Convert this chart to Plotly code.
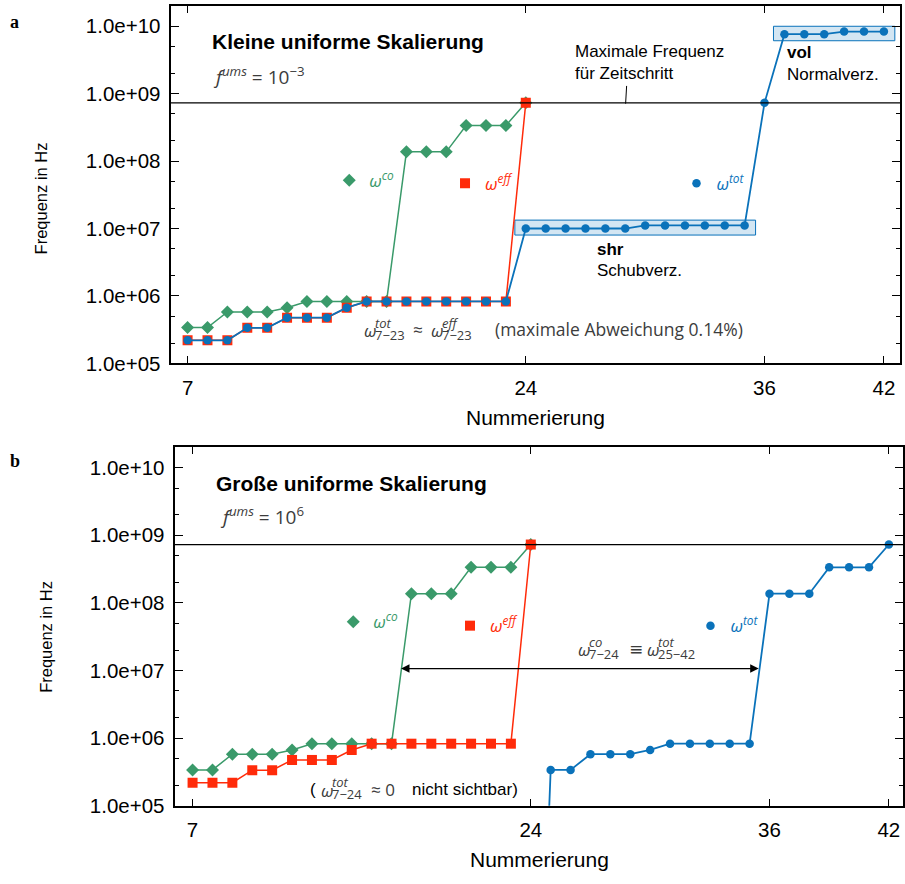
import math
import plotly.graph_objects as go

W, H = 905, 884
SANS = "Liberation Sans, Arial, sans-serif"
MATH = "Open Sans, DejaVu Sans, sans-serif"
GREEN = "#3a9a6a"
RED = "#ff2b0a"
BLUE = "#0a72ba"
GRAY = "#3c3c3c"

# ---------------- data ----------------
x_low = [7, 8, 9, 10, 11, 12, 13, 14, 15, 16, 17, 18, 19, 20, 21, 22, 23, 24]
x_all = [7, 8, 9, 10, 11, 12, 13, 14, 15, 16, 17, 18, 19, 20, 21, 22, 23, 24,
         25, 26, 27, 28, 29, 30, 31, 32, 33, 34, 35, 36, 37, 38, 39, 40, 41, 42]

omega_co = [3.4e5, 3.4e5, 5.8e5, 5.8e5, 5.8e5, 6.7e5, 8.3e5, 8.3e5, 8.3e5,
            8.3e5, 8.3e5, 1.37e8, 1.37e8, 1.37e8, 3.36e8, 3.36e8, 3.36e8, 7.3e8]
omega_eff = [2.2e5, 2.2e5, 2.2e5, 3.37e5, 3.37e5, 4.77e5, 4.77e5, 4.77e5, 6.7e5,
             8.3e5, 8.3e5, 8.3e5, 8.3e5, 8.3e5, 8.3e5, 8.3e5, 8.3e5, 7.3e8]
# panel a (small uniform scaling)
omega_tot_a = [2.2e5, 2.2e5, 2.2e5, 3.37e5, 3.37e5, 4.77e5, 4.77e5, 4.77e5, 6.7e5,
               8.3e5, 8.3e5, 8.3e5, 8.3e5, 8.3e5, 8.3e5, 8.3e5, 8.3e5,
               1.0e7, 1.0e7, 1.0e7, 1.0e7, 1.0e7, 1.0e7,
               1.11e7, 1.11e7, 1.11e7, 1.11e7, 1.11e7, 1.11e7,
               7.3e8, 7.6e9, 7.6e9, 7.6e9, 8.3e9, 8.3e9, 8.3e9]
# panel b (large uniform scaling)
omega_tot_b = [1e-2, 1e-2, 1e-2, 1e-2, 1e-2, 1e-2, 1e-2, 1e-2, 1e-2,
               1e-2, 1e-2, 1e-2, 1e-2, 1e-2, 1e-2, 1e-2, 1e-2, 1e-2,
               3.4e5, 3.4e5, 5.8e5, 5.8e5, 5.8e5, 6.7e5, 8.3e5, 8.3e5, 8.3e5,
               8.3e5, 8.3e5, 1.37e8, 1.37e8, 1.37e8, 3.36e8, 3.36e8, 3.36e8, 7.3e8]
f_max = 7.3e8
x_ticks = [7, 24, 36, 42]
y_ticks = [1e5, 1e6, 1e7, 1e8, 1e9, 1e10]
y_ticktext = ["1.0e+05", "1.0e+06", "1.0e+07", "1.0e+08", "1.0e+09", "1.0e+10"]
y_minor = [m * 10 ** e for e in range(5, 11) for m in (2, 5)]
shr_idx = (17, 29)   # indices of x = 24..35 in panel a
vol_idx = (30, 36)   # indices of x = 37..42 in panel a

fig = go.Figure()


def series(x, y, xa, ya, color, symbol, size, lw, name):
    fig.add_trace(go.Scatter(
        x=x, y=y, xaxis=xa, yaxis=ya, mode="lines+markers", name=name,
        line=dict(color=color, width=lw),
        marker=dict(color=color, symbol=symbol, size=size, line=dict(width=0)),
        showlegend=False, cliponaxis=True))


for xa, ya, tot in (("x", "y", omega_tot_a), ("x2", "y2", omega_tot_b)):
    series(x_low, omega_co, xa, ya, GREEN, "diamond", 10, 1.5, "ω co")
    series(x_low, omega_eff, xa, ya, RED, "square", 10, 1.5, "ω eff")
    series(x_all, tot, xa, ya, BLUE, "circle", 8.5, 1.8, "ω tot")

# legend keys (one per legend box)
legend_specs = [
    ("legend", "x", "y", GREEN, "diamond", 10, "<i>ω</i><sup><i>co</i></sup>", 350, 183),
    ("legend2", "x", "y", RED, "square", 10, "<i>ω</i><sup><i>eff</i></sup>", 466, 186),
    ("legend3", "x", "y", BLUE, "circle", 8.5, "<i>ω</i><sup><i>tot</i></sup>", 698, 186),
    ("legend4", "x2", "y2", GREEN, "diamond", 10, "<i>ω</i><sup><i>co</i></sup>", 354, 630),
    ("legend5", "x2", "y2", RED, "square", 10, "<i>ω</i><sup><i>eff</i></sup>", 471, 634),
    ("legend6", "x2", "y2", BLUE, "circle", 8.5, "<i>ω</i><sup><i>tot</i></sup>", 712, 634),
]
legend_layout = {}
for lg, xa, ya, col, sym_, sz, label, cx, cy in legend_specs:
    fig.add_trace(go.Scatter(x=[None], y=[None], xaxis=xa, yaxis=ya, mode="markers",
                             marker=dict(color=col, symbol=sym_, size=sz),
                             name=label, legend=lg, showlegend=True))
    legend_layout[lg] = dict(x=(cx - 20) / W, y=1 - cy / H, xanchor="left", yanchor="middle",
                             bgcolor="rgba(0,0,0,0)", borderwidth=0, itemwidth=30,
                             font=dict(family=MATH, size=17, color=col))

axis_common = dict(showline=True, linewidth=2, linecolor="black", mirror="ticks",
                   ticks="inside", tickcolor="black", showgrid=False, zeroline=False,
                   tickfont=dict(family=SANS, size=20.5, color="black"))

dom_a_x = [171 / W, 902 / W]
dom_a_y = [1 - 368 / H, 1 - 6 / H]
dom_b_x = [175 / W, 1.0]
dom_b_y = [1 - 816 / H, 1 - 453 / H]

layout = dict(
    width=W, height=H, margin=dict(l=0, r=0, t=0, b=0),
    paper_bgcolor="white", plot_bgcolor="white",
    font=dict(family=SANS, color="black"),
    xaxis=dict(domain=dom_a_x, anchor="y", range=[6.147, 42.81], tickvals=x_ticks,
               ticklen=7, ticklabelstandoff=5, **axis_common),
    yaxis=dict(domain=dom_a_y, anchor="x", type="log", range=[5, 10.3], tickvals=y_ticks,
               ticktext=y_ticktext, ticklen=8, ticklabelstandoff=4,
               minor=dict(tickvals=y_minor, ticks="inside", ticklen=4, tickcolor="black"),
               **axis_common),
    xaxis2=dict(domain=dom_b_x, anchor="y2", range=[6.097, 42.71], tickvals=x_ticks,
                ticklen=7, ticklabelstandoff=5, **axis_common),
    yaxis2=dict(domain=dom_b_y, anchor="x2", type="log", range=[5, 10.3], tickvals=y_ticks,
                ticktext=y_ticktext, ticklen=8, ticklabelstandoff=4,
                minor=dict(tickvals=y_minor, ticks="inside", ticklen=4, tickcolor="black"),
                **axis_common),
)
layout.update(legend_layout)
fig.update_layout(**layout)

# max frequency line
for xa, ya in (("x", "y"), ("x2", "y2")):
    fig.add_shape(type="line", xref=f"{xa} domain", yref=ya, x0=0, x1=1, y0=f_max, y1=f_max,
                  line=dict(color="black", width=1.2))

# highlight boxes around shr / vol groups (panel a)
for i0, i1 in (shr_idx, vol_idx):
    xs = x_all[i0:i1]
    ys = omega_tot_a[i0:i1]
    fig.add_shape(type="rect", xref="x", yref="y", x0=min(xs) - 0.55, x1=max(xs) + 0.55,
                  y0=min(ys) / 1.25, y1=max(ys) * 1.2,
                  line=dict(color=BLUE, width=1), fillcolor="rgba(10,114,186,0.18)",
                  layer="below")

# leader line to "Maximale Frequenz"
fig.add_shape(type="line", xref="paper", yref="paper", x0=628 / W, x1=627 / W,
              y0=1 - 87 / H, y1=1 - 105 / H, line=dict(color="black", width=1))

ann = []


def txt(x, y, text, size, color="black", family=SANS, xanchor="left", angle=0):
    ann.append(dict(x=x / W, y=1 - y / H, xref="paper", yref="paper", text=text,
                    showarrow=False, xanchor=xanchor, yanchor="middle", textangle=angle,
                    font=dict(family=family, size=size, color=color)))


def sym(x, y, base, sup, sub, size=17, color=GRAY, dx=11):
    txt(x, y, base, size, color, MATH)
    if sup:
        txt(x + dx, y - 8, sup, 13, color, MATH)
    if sub:
        txt(x + dx, y + 4, sub, 13, color, MATH)


# panel labels
txt(8, 22, "<b>a</b>", 18, family="Liberation Serif, DejaVu Serif, serif")
txt(8, 467, "<b>b</b>", 18, family="Liberation Serif, DejaVu Serif, serif")

# axis titles
txt(42, 201, "Frequenz in Hz", 16.5, xanchor="center", angle=-90)
txt(46, 645, "Frequenz in Hz", 16.5, xanchor="center", angle=-90)
txt(537, 423, "Nummerierung", 21, xanchor="center")
txt(541, 870, "Nummerierung", 21, xanchor="center")

# panel titles
txt(210, 42, "<b>Kleine uniforme Skalierung</b>", 21)
txt(214, 490, "<b>Große uniforme Skalierung</b>", 21)
txt(211, 77, "<i>f</i><sup><i>ums</i></sup> = 10<sup>−3</sup>", 19, GRAY, MATH)
txt(218, 522, "<i>f</i><sup><i>ums</i></sup> = 10<sup>6</sup>", 19, GRAY, MATH)

# max frequency label
txt(574, 52, "Maximale Frequenz", 17)
txt(574, 74, "für Zeitschritt", 17)

# group labels
txt(787, 53, "<b>vol</b>", 17)
txt(787, 75, "Normalverz.", 17)
txt(596, 253, "<b>shr</b>", 17)
txt(596, 274, "Schubverz.", 17)

# panel a relation
sym(363, 335, "<i>ω</i>", "<i>tot</i>", "7−23")
txt(412, 334, "≈", 17, GRAY, MATH)
sym(430, 335, "<i>ω</i>", "<i>eff</i>", "7−23")
txt(494, 333, "(maximale Abweichung 0.14%)", 17.5, GRAY, MATH)

# panel b relation + arrow
sym(577, 658, "<i>ω</i>", "<i>co</i>", "7−24")
txt(628, 657, "≡", 17, GRAY, MATH)
sym(646, 658, "<i>ω</i>", "<i>tot</i>", "25−42")
ann.append(dict(x=17.48, y=math.log10(1.07e7), ax=35.53, ay=math.log10(1.07e7),
                xref="x2", yref="y2", axref="x2", ayref="y2", text="", showarrow=True,
                arrowhead=2, startarrowhead=2, arrowside="end+start", arrowsize=1.3,
                arrowwidth=1.3, arrowcolor="black", standoff=0, startstandoff=0))

# panel b note
txt(309, 799, "(", 17, "black")
sym(320, 800, "<i>ω</i>", "<i>tot</i>", "7−24")
txt(370, 799, "≈ 0", 17, GRAY, MATH)
txt(411, 799, "nicht sichtbar)", 17, "black")

fig.update_layout(annotations=ann)
fig.write_html("out.html")
